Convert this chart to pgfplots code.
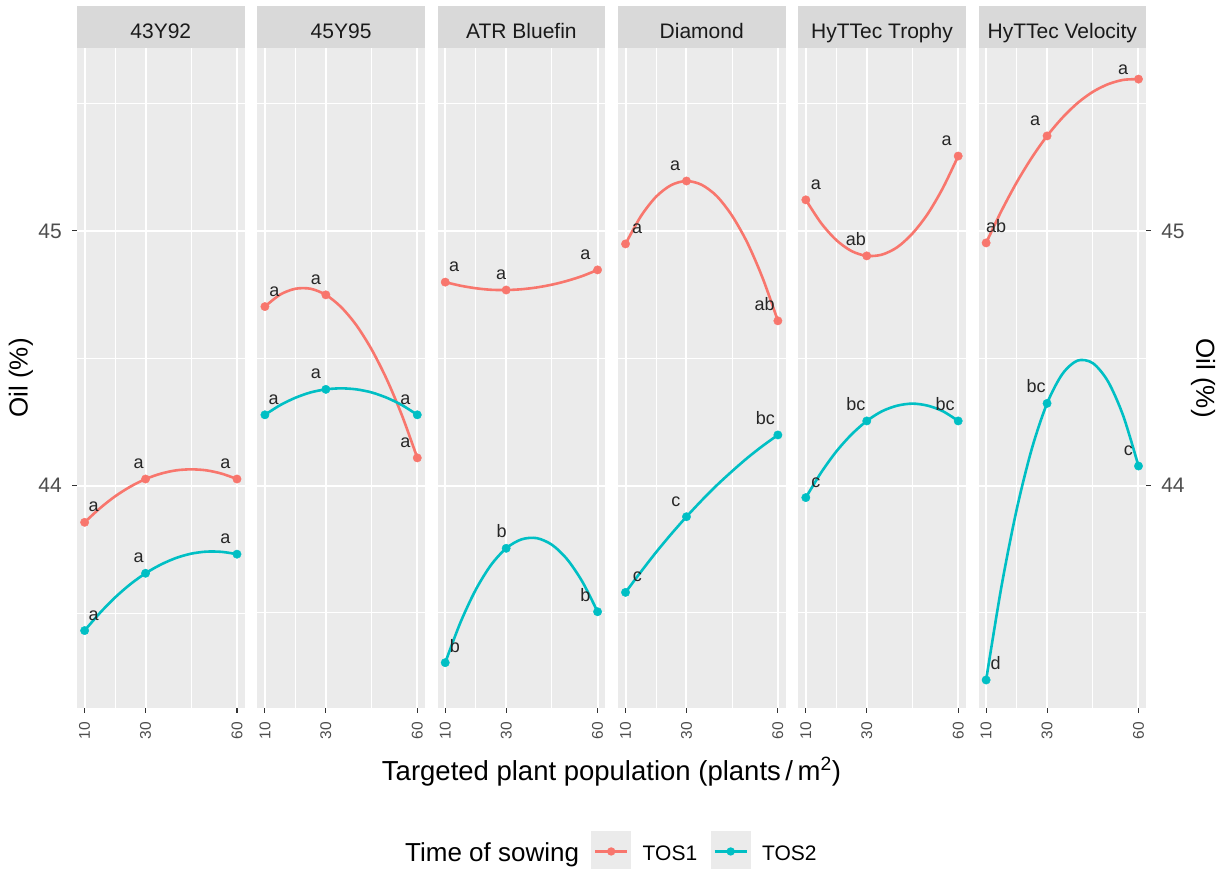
\documentclass[border=0pt]{standalone}
\usepackage{fontspec}
\setmainfont{Liberation Sans}
\usepackage{pgfplots}
\pgfplotsset{compat=1.18}
\usepackage{pgfplotstable}

\definecolor{tosA}{HTML}{F8766D}
\definecolor{tosB}{HTML}{00BFC4}
\definecolor{panelbg}{HTML}{EBEBEB}
\definecolor{stripbg}{HTML}{D9D9D9}
\definecolor{tickcol}{HTML}{4D4D4D}
\definecolor{tickmark}{HTML}{333333}
\definecolor{striptext}{HTML}{1A1A1A}
\definecolor{labcol}{HTML}{262626}

% fitted curves : x, TOS1, TOS2
\pgfplotstableread{
x t1 t2
10 43.856 43.431
15 43.911 43.500
20 43.958 43.561
25 43.996 43.613
30 44.026 43.656
35 44.047 43.690
40 44.060 43.716
45 44.064 43.733
50 44.060 43.741
55 44.047 43.740
60 44.026 43.731
}\cA
\pgfplotstableread{
x t1 t2
10 44.703 44.278
15 44.750 44.316
20 44.773 44.345
25 44.773 44.366
30 44.749 44.378
35 44.701 44.382
40 44.630 44.378
45 44.535 44.366
50 44.417 44.345
55 44.275 44.316
60 44.109 44.278
}\cB
\pgfplotstableread{
x t1 t2
10 44.799 43.305
15 44.785 43.463
20 44.775 43.591
25 44.769 43.688
30 44.768 43.754
35 44.771 43.789
40 44.778 43.794
45 44.789 43.768
50 44.804 43.711
55 44.823 43.623
60 44.847 43.505
}\cC
\pgfplotstableread{
x t1 t2
10 44.949 43.581
15 45.057 43.661
20 45.134 43.738
25 45.180 43.810
30 45.196 43.878
35 45.181 43.942
40 45.136 44.002
45 45.059 44.057
50 44.953 44.109
55 44.815 44.156
60 44.647 44.199
}\cD
\pgfplotstableread{
x t1 t2
10 45.122 43.953
15 45.031 44.051
20 44.964 44.134
25 44.921 44.201
30 44.902 44.254
35 44.907 44.292
40 44.936 44.314
45 44.990 44.322
50 45.067 44.314
55 45.169 44.292
60 45.294 44.254
}\cE
\pgfplotstableread{
x t1 t2
10 44.953 43.237
15 45.078 43.602
20 45.190 43.905
25 45.288 44.145
30 45.373 44.323
35 45.444 44.438
40 45.502 44.491
45 45.546 44.481
50 45.576 44.409
55 45.593 44.274
60 45.596 44.077
}\cF

% observed means : x, TOS1, TOS2
\pgfplotstableread{
x t1 t2
10 43.856 43.431
30 44.026 43.656
60 44.026 43.731
}\pA
\pgfplotstableread{
x t1 t2
10 44.703 44.278
30 44.749 44.378
60 44.109 44.278
}\pB
\pgfplotstableread{
x t1 t2
10 44.799 43.305
30 44.768 43.754
60 44.847 43.505
}\pC
\pgfplotstableread{
x t1 t2
10 44.949 43.581
30 45.196 43.878
60 44.647 44.199
}\pD
\pgfplotstableread{
x t1 t2
10 45.122 43.953
30 44.902 44.254
60 45.294 44.254
}\pE
\pgfplotstableread{
x t1 t2
10 44.953 43.237
30 45.373 44.323
60 45.596 44.077
}\pF

\tikzset{lab/.style={font=\fontsize{18}{18}\selectfont, text=labcol, anchor=base, inner sep=0pt}}
\newcommand\lab[4]{\node[lab, xshift=#2pt, yshift=#3pt] at (axis cs:#1) {#4};}

\pgfplotsset{
  facet/.style={
    scale only axis, width=167.6pt, height=659.7pt,
    anchor=north west,
    xmin=7.5, xmax=62.5, ymin=43.127, ymax=45.717,
    axis background/.style={fill=panelbg},
    axis line style={draw=none},
    xtick={10,30,60}, xticklabels={10,30,60},
    minor xtick={20,45},
    ytick={44,45}, minor ytick={43.5,44.5,45.5},
    xmajorgrids, ymajorgrids, xminorgrids, yminorgrids,
    major grid style={white, line width=2pt},
    minor grid style={white, line width=1pt},
    tick align=outside, major tick length=4.5pt, minor tick length=0pt,
    every tick/.style={tickmark, line width=1.1pt},
    xtick pos=left,
    xticklabel style={rotate=90, anchor=east, font=\fontsize{15.5}{15.5}\selectfont, text=tickcol, inner sep=0pt},
    yticklabel style={font=\fontsize{21}{21}\selectfont, text=tickcol, inner sep=0pt},
    xticklabel shift=9.5pt,
    yticklabel shift=10.5pt,
    every axis title/.style={at={(0.5,1)}, anchor=south, fill=stripbg, minimum width=167.6pt, minimum height=41.7pt, inner sep=0pt, text height=22.6pt, text depth=0pt, font=\fontsize{21}{21}\selectfont, text=striptext},
    clip=false,
  },
  inner/.style={ytick pos=left, yticklabels={}, ytick style={draw=none}},
  tos1line/.style={color=tosA, line width=2.6pt, smooth, mark=none},
  tos2line/.style={color=tosB, line width=2.6pt, smooth, mark=none},
  tos1pt/.style={color=tosA, only marks, mark=*, mark size=4.2pt, mark options={draw=none, fill=tosA}},
  tos2pt/.style={color=tosB, only marks, mark=*, mark size=4.2pt, mark options={draw=none, fill=tosB}},
}

\begin{document}
\begin{tikzpicture}
\useasboundingbox (0pt,0pt) rectangle (1225pt,-869pt);

% ---------- 43Y92
\begin{axis}[facet, at={(77pt,-48.3pt)}, title={43Y92}, ytick pos=left, yticklabels={44,45},
  legend style={at={(3.067,-0.2151)}, anchor=west, draw=none, fill=none, legend columns=2,
    inner sep=0pt, font=\fontsize{21}{21}\selectfont, nodes={inner sep=0pt},
    /tikz/every odd column/.append style={column sep=11.5pt},
    /tikz/every even column/.append style={column sep=13.5pt}},
  legend image code/.code={
    \fill[panelbg, draw=none, overlay] (0pt,-18.5pt) rectangle (40pt,22.5pt);
    \path[draw=none, fill=none] (0pt,0pt) rectangle (40pt,15.2pt);
    \draw[#1, fill=none, overlay] (4pt,2pt) -- (36pt,2pt);
    \fill[#1, draw=none, overlay] (20pt,2pt) circle[radius=4.2pt];
  }]
\addplot[tos1line] table[x=x,y=t1]{\cA};
\addlegendentry{TOS1}
\addplot[tos2line] table[x=x,y=t2]{\cA};
\addlegendentry{TOS2}
\addplot[tos1pt, forget plot] table[x=x,y=t1]{\pA};
\addplot[tos2pt, forget plot] table[x=x,y=t2]{\pA};
\lab{10,43.856}{9}{10.5}{a}
\lab{30,44.026}{-7}{10.5}{a}
\lab{60,44.026}{-11.7}{10.5}{a}
\lab{10,43.431}{9}{10.5}{a}
\lab{30,43.656}{-7}{10.5}{a}
\lab{60,43.731}{-11.7}{10.5}{a}
\end{axis}

% ---------- 45Y95
\begin{axis}[facet, inner, at={(257.3pt,-48.3pt)}, title={45Y95}]
\addplot[tos1line] table[x=x,y=t1]{\cB};
\addplot[tos2line] table[x=x,y=t2]{\cB};
\addplot[tos1pt] table[x=x,y=t1]{\pB};
\addplot[tos2pt] table[x=x,y=t2]{\pB};
\lab{10,44.703}{9.4}{10.5}{a}
\lab{30,44.749}{-10}{10.5}{a}
\lab{60,44.109}{-12}{10.5}{a}
\lab{10,44.278}{8.7}{10.5}{a}
\lab{30,44.378}{-10}{10.5}{a}
\lab{60,44.278}{-12}{10.5}{a}
\end{axis}

% ---------- ATR Bluefin
\begin{axis}[facet, inner, at={(437.6pt,-48.3pt)}, title={ATR Bluefin}]
\addplot[tos1line] table[x=x,y=t1]{\cC};
\addplot[tos2line] table[x=x,y=t2]{\cC};
\addplot[tos1pt] table[x=x,y=t1]{\pC};
\addplot[tos2pt] table[x=x,y=t2]{\pC};
\lab{10,44.799}{9}{10.5}{a}
\lab{30,44.768}{-5}{10.5}{a}
\lab{60,44.847}{-12.3}{10.5}{a}
\lab{10,43.305}{9.7}{10.5}{b}
\lab{30,43.754}{-4.6}{10.5}{b}
\lab{60,43.505}{-12.3}{10.5}{b}
\end{axis}

% ---------- Diamond
\begin{axis}[facet, inner, at={(617.9pt,-48.3pt)}, title={Diamond}]
\addplot[tos1line] table[x=x,y=t1]{\cD};
\addplot[tos2line] table[x=x,y=t2]{\cD};
\addplot[tos1pt] table[x=x,y=t1]{\pD};
\addplot[tos2pt] table[x=x,y=t2]{\pD};
\lab{10,44.949}{11.5}{10.5}{a}
\lab{30,45.196}{-11.3}{10.5}{a}
\lab{60,44.647}{-13.3}{10.5}{ab}
\lab{10,43.581}{11.8}{10.5}{c}
\lab{30,43.878}{-10.6}{10.5}{c}
\lab{60,44.199}{-12.6}{10.5}{bc}
\end{axis}

% ---------- HyTTec Trophy
\begin{axis}[facet, inner, at={(798.2pt,-48.3pt)}, title={HyTTec Trophy}]
\addplot[tos1line] table[x=x,y=t1]{\cE};
\addplot[tos2line] table[x=x,y=t2]{\cE};
\addplot[tos1pt] table[x=x,y=t1]{\pE};
\addplot[tos2pt] table[x=x,y=t2]{\pE};
\lab{10,45.122}{10}{10.5}{a}
\lab{30,44.902}{-11}{10.5}{ab}
\lab{60,45.294}{-11.6}{10.5}{a}
\lab{10,43.953}{10}{10.5}{c}
\lab{30,44.254}{-11}{10.5}{bc}
\lab{60,44.254}{-13}{10.5}{bc}
\end{axis}

% ---------- HyTTec Velocity
\begin{axis}[facet, at={(978.5pt,-48.3pt)}, title={HyTTec Velocity},
  ytick pos=right, yticklabel pos=right, yticklabels={44,45}]
\addplot[tos1line] table[x=x,y=t1]{\cF};
\addplot[tos2line] table[x=x,y=t2]{\cF};
\addplot[tos1pt] table[x=x,y=t1]{\pF};
\addplot[tos2pt] table[x=x,y=t2]{\pF};
\lab{10,44.953}{10}{10.5}{ab}
\lab{30,45.373}{-12}{10.5}{a}
\lab{60,45.596}{-15.4}{5}{a}
\lab{10,43.237}{9.4}{10.5}{d}
\lab{30,44.323}{-11}{10.5}{bc}
\lab{60,44.077}{-10}{10.5}{c}
\end{axis}

% ---------- axis titles and legend title
\node[rotate=90, font=\fontsize{26}{26}\selectfont] at (21pt,-378pt) {Oil (\%)};
\node[rotate=-90, font=\fontsize{26}{26}\selectfont] at (1203pt,-378pt) {Oil (\%)};
\node[anchor=base, font=\fontsize{27.5}{27.5}\selectfont, inner sep=0pt] at (611.5pt,-780pt) {Targeted plant population (plants\,/\,m\textsuperscript{2})};
\node[anchor=base west, font=\fontsize{26}{26}\selectfont, inner sep=0pt] at (405pt,-861.7pt) {Time of sowing};
\end{tikzpicture}
\end{document}
